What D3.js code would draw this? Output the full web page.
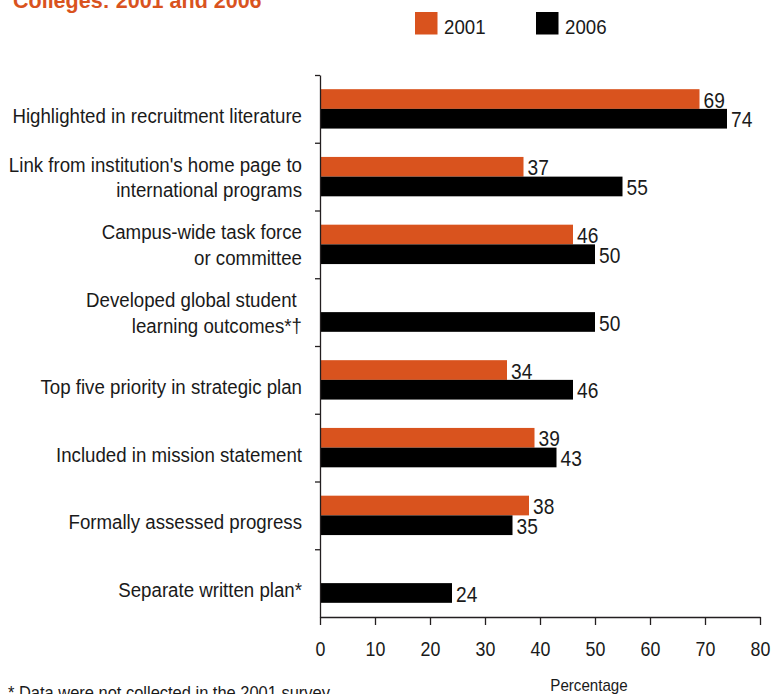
<!DOCTYPE html>
<html>
<head>
<meta charset="utf-8">
<script src="https://cdn.jsdelivr.net/npm/d3@7"></script>
<style>
  html, body { margin: 0; padding: 0; background: #fff; }
  svg { display: block; }
  text { font-family: "Liberation Sans", Arial, sans-serif; fill: #1a1a1a; }
</style>
</head>
<body>
<svg id="chart" width="771" height="694"></svg>
<script>
// Internationalization indicators, share of colleges (%)
const categories = [
  "Highlighted in recruitment literature",
  "Link from institution's home page to\ninternational programs",
  "Campus-wide task force\nor committee",
  "Developed global student \nlearning outcomes*\u2020",
  "Top five priority in strategic plan",
  "Included in mission statement",
  "Formally assessed progress",
  "Separate written plan*"
];
const years = ["2001", "2006"];
const values2001 = [69, 37, 46, null, 34, 39, 38, null];
const values2006 = [74, 55, 50, 50, 46, 43, 35, 24];
const xTicks = [0, 10, 20, 30, 40, 50, 60, 70, 80];
const titleText = "Colleges: 2001 and 2006";
const footnote = "* Data were not collected in the 2001 survey";
const axisTitle = "Percentage";

const colors = { "2001": "#D9531E", "2006": "#000000" };
const NARROW = 0.89; // horizontal squeeze to get a condensed face

const rows = categories.map((c, i) => ({
  category: c,
  "2001": values2001[i],
  "2006": values2006[i]
}));

// Squeeze text horizontally around its anchor x
function narrow(sel, s = NARROW) {
  sel.each(function () {
    const t = d3.select(this);
    const ax = +(t.attr("x") || 0);
    t.attr("x", 0);
    t.selectAll("tspan").attr("x", 0);
    const prev = t.attr("transform") || "";
    t.attr("transform", `${prev} translate(${ax},0) scale(${s},1)`);
  });
}

const svg = d3.select("#chart");

const plot = { left: 320, right: 760, top: 75, bottom: 617 };

const x = d3.scaleLinear().domain([0, 80]).range([plot.left, plot.right]);
const y0 = d3.scaleBand().domain(categories).range([plot.top, plot.bottom]).paddingInner(0).paddingOuter(0);
const y1 = d3.scaleBand().domain(years).range([0, y0.bandwidth()]).paddingInner(0).paddingOuter(0.72);
const idx = d3.scaleLinear().domain([0, categories.length]).range([plot.top, plot.bottom]);

// Title line
svg.append("text")
  .attr("x", 13).attr("y", 8)
  .style("font-weight", "bold")
  .style("font-size", "21.5px")
  .style("fill", "#D9531E")
  .text(titleText);

// Legend
const legend = svg.append("g");
const legendPos = { "2001": 415, "2006": 536 };
years.forEach(k => {
  legend.append("rect")
    .attr("x", legendPos[k]).attr("y", 12)
    .attr("width", 22.5).attr("height", 22.5)
    .attr("fill", colors[k]);
  legend.append("text")
    .attr("x", legendPos[k] + 29).attr("y", 34)
    .style("font-size", "21px")
    .text(k)
    .call(narrow);
});

// Bars
const groups = svg.append("g").selectAll("g")
  .data(rows).join("g")
  .attr("transform", d => `translate(0,${y0(d.category)})`);

groups.selectAll("rect")
  .data(d => years.filter(k => d[k] != null).map(k => ({ key: k, value: d[k] })))
  .join("rect")
  .attr("x", x(0))
  .attr("y", d => y1(d.key))
  .attr("width", d => x(d.value) - x(0))
  .attr("height", y1.bandwidth())
  .attr("fill", d => colors[d.key]);

groups.selectAll("text.val")
  .data(d => years.filter(k => d[k] != null).map(k => ({ key: k, value: d[k] })))
  .join("text")
  .attr("class", "val")
  .attr("x", d => x(d.value) + 4)
  .attr("y", d => y1(d.key) + y1.bandwidth() / 2)
  .attr("dy", "0.4em")
  .style("font-size", "21.5px")
  .text(d => d.value)
  .call(narrow);

// Category labels
const lineH = 25.6;
svg.append("g").selectAll("text")
  .data(categories).join("text")
  .attr("text-anchor", "end")
  .attr("x", 302)
  .style("font-size", "21px")
  .style("white-space", "pre")
  .each(function (c) {
    const lines = c.split("\n");
    const center = y0(c) + y0.bandwidth() / 2;
    const first = center + 14 - (lines.length - 1) * 19;
    d3.select(this).selectAll("tspan")
      .data(lines).join("tspan")
      .attr("x", 302)
      .attr("y", (l, i) => first + i * lineH)
      .text(l => l);
  })
  .call(narrow);

// Y axis with ticks at category boundaries
const yAxis = d3.axisLeft(idx)
  .tickValues(d3.range(0, categories.length))
  .tickFormat("")
  .tickSize(5)
  .tickSizeOuter(0);
svg.append("g")
  .attr("transform", `translate(${plot.left},0)`)
  .call(yAxis)
  .call(g => g.selectAll("path, line").attr("stroke", "#231f20").attr("stroke-width", 1.3));

// X axis
const xAxis = d3.axisBottom(x)
  .tickValues(xTicks)
  .tickSize(8)
  .tickPadding(17)
  .tickSizeOuter(0);
svg.append("g")
  .attr("transform", `translate(0,${plot.bottom})`)
  .call(xAxis)
  .call(g => g.selectAll("path, line").attr("stroke", "#231f20").attr("stroke-width", 1.3))
  .call(g => g.selectAll("text")
    .style("font-family", "'Liberation Sans', Arial, sans-serif")
    .style("font-size", "20px")
    .attr("fill", "#1a1a1a")
    .call(narrow));

// Axis title
svg.append("text")
  .attr("x", 589).attr("y", 691)
  .attr("text-anchor", "middle")
  .style("font-size", "17px")
  .text(axisTitle)
  .call(narrow);

// Footnote
svg.append("text")
  .attr("x", 8).attr("y", 699.5)
  .style("font-size", "18.5px")
  .text(footnote)
  .call(narrow);
</script>
</body>
</html>
